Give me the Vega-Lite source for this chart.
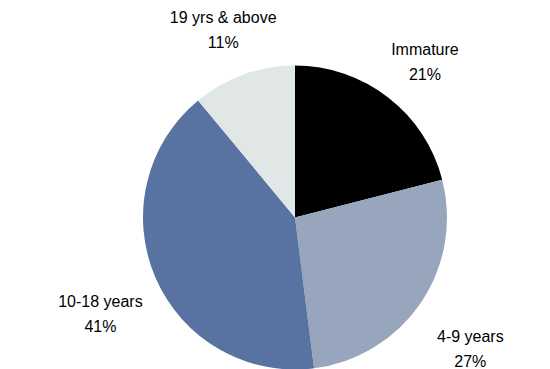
{
  "$schema": "https://vega.github.io/schema/vega-lite/v6.json",
  "width": 510,
  "height": 303,
  "autosize": {"type": "none"},
  "padding": {"left": 40, "right": 0, "top": 66, "bottom": 0},
  "background": "white",
  "config": {"view": {"stroke": null}, "font": "Liberation Sans"},
  "data": {
    "values": [
      {"idx": 1, "category": "Immature", "share": 21},
      {"idx": 2, "category": "4-9 years", "share": 27},
      {"idx": 3, "category": "10-18 years", "share": 41},
      {"idx": 4, "category": "19 yrs & above", "share": 11}
    ]
  },
  "transform": [
    {"calculate": "datum.category + '\\n' + datum.share + '%'", "as": "label"}
  ],
  "encoding": {
    "theta": {"field": "share", "type": "quantitative", "stack": true},
    "order": {"field": "idx", "type": "quantitative"}
  },
  "layer": [
    {
      "mark": {"type": "arc", "radius": 152},
      "encoding": {
        "color": {
          "field": "category",
          "type": "nominal",
          "scale": {
            "domain": ["Immature", "4-9 years", "10-18 years", "19 yrs & above"],
            "range": ["#000000", "#97A6BD", "#5873A1", "#E1E6E6"]
          },
          "legend": null
        }
      }
    },
    {
      "mark": {"type": "text", "radius": 212, "fontSize": 16, "lineHeight": 25, "lineBreak": "\n", "color": "#000000", "align": "center", "baseline": "middle"},
      "encoding": {
        "text": {"field": "label", "type": "nominal"}
      }
    }
  ]
}
